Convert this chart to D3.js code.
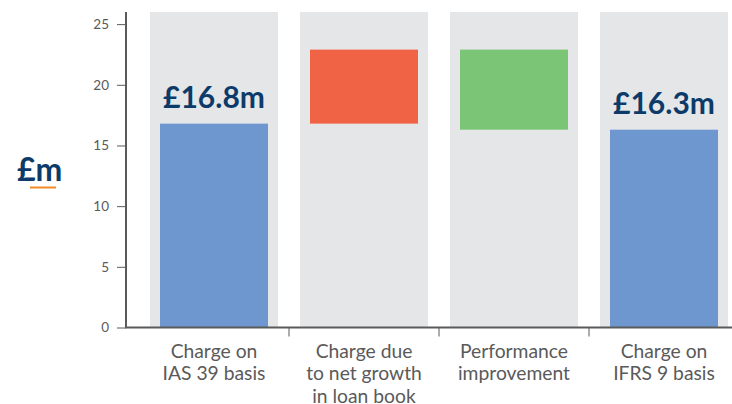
<!DOCTYPE html>
<html>
<head>
<meta charset="utf-8">
<script src="https://cdn.jsdelivr.net/npm/d3@7"></script>
<style>
  body { margin: 0; background: #fff; }
  svg { display: block; }
</style>
</head>
<body>
<div id="chart-area"></div>
<script>
// categories (lines of each x label) and waterfall steps in £m
const categories = [
    ['Charge on', 'IAS 39 basis'],
    ['Charge due', 'to net growth', 'in loan book'],
    ['Performance', 'improvement'],
    ['Charge on', 'IFRS 9 basis']
]
const values = [16.8, 6.1, -6.6, 16.3]
const kinds = ['total', 'increase', 'decrease', 'total']
const valueLabels = ['£16.8m', '', '', '£16.3m']
const yTicks = [0, 5, 10, 15, 20, 25]

const width = 732
const height = 404
const axisX = 126
const plotTop = 12
const plotBottom = 327.5

const colors = {
    total: '#6f97cf',
    increase: '#f06445',
    decrease: '#7bc577',
    band: '#e5e6e8',
    navy: '#0d3b69',
    axis: '#5a5a5a',
    text: '#5a5a5a'
}

const svg = d3.select('#chart-area')
              .append('svg')
              .attr('width', width)
              .attr('height', height)

// running totals for the waterfall
let running = 0
const bars = values.map((v, i) => {
    let start, end
    if (kinds[i] === 'total') {
        start = 0
        end = v
        running = v
    } else {
        start = running
        end = running + v
        running = end
    }
    return { key: i, start: start, end: end, kind: kinds[i], label: valueLabels[i] }
})

const x = d3.scaleBand()
            .domain(d3.range(categories.length))
            .range([139, 739])
            .paddingInner(22 / 150)
            .paddingOuter(11 / 150)

const y = d3.scaleLinear()
            .domain([0, 26])
            .range([plotBottom, plotTop])

// grey background columns
svg.selectAll('rect.band')
   .data(bars)
   .enter()
   .append('rect')
   .attr('class', 'band')
   .attr('x', d => x(d.key))
   .attr('y', y(26))
   .attr('width', x.bandwidth())
   .attr('height', y(0) - y(26))
   .attr('fill', colors.band)

const inset = 10
svg.selectAll('rect.bar')
   .data(bars)
   .enter()
   .append('rect')
   .attr('class', 'bar')
   .attr('x', d => x(d.key) + inset)
   .attr('y', d => y(Math.max(d.start, d.end)))
   .attr('width', x.bandwidth() - inset * 2)
   .attr('height', d => Math.abs(y(d.start) - y(d.end)))
   .attr('fill', d => colors[d.kind])

svg.selectAll('text.value')
   .data(bars.filter(d => d.label))
   .enter()
   .append('text')
   .attr('class', 'value')
   .attr('x', d => x(d.key) + x.bandwidth() / 2)
   .attr('y', d => y(d.end) - 16)
   .attr('text-anchor', 'middle')
   .attr('font-family', 'Lato, sans-serif')
   .attr('font-weight', 'bold')
   .attr('font-size', '30px')
   .attr('fill', colors.navy)
   .text(d => d.label)

// y axis
const yAxisCall = d3.axisLeft(y)
                    .tickValues(yTicks)
                    .tickSize(9)
                    .tickPadding(8)
                    .tickSizeOuter(0)

const yAxis = svg.append('g')
   .attr('transform', 'translate(' + axisX + ', 0)')
   .call(yAxisCall)
yAxis.select('.domain').remove()
yAxis.selectAll('line').attr('stroke', colors.axis)
yAxis.selectAll('text')
     .attr('font-family', 'Lato, sans-serif')
     .attr('font-size', '13.5px')
     .attr('fill', colors.text)

svg.append('line')
   .attr('x1', axisX).attr('x2', axisX)
   .attr('y1', plotTop).attr('y2', plotBottom)
   .attr('stroke', colors.axis)
   .attr('stroke-width', 2)

// x axis
svg.append('line')
   .attr('x1', axisX - 1).attr('x2', width)
   .attr('y1', plotBottom).attr('y2', plotBottom)
   .attr('stroke', colors.axis)
   .attr('stroke-width', 2)

const boundaries = d3.range(1, categories.length).map(i => x(i) - x.step() * x.paddingInner() / 2)
svg.selectAll('line.divider')
   .data(boundaries)
   .enter()
   .append('line')
   .attr('class', 'divider')
   .attr('x1', d => d).attr('x2', d => d)
   .attr('y1', plotBottom).attr('y2', plotBottom + 9)
   .attr('stroke', colors.axis)
   .attr('stroke-width', 1)

const labels = svg.selectAll('text.cat')
   .data(categories)
   .enter()
   .append('text')
   .attr('class', 'cat')
   .attr('text-anchor', 'middle')
   .attr('font-family', 'Lato, sans-serif')
   .attr('font-size', '19.3px')
   .attr('fill', colors.text)

labels.selectAll('tspan')
   .data((d, i) => d.map(line => ({ line: line, i: i })))
   .enter()
   .append('tspan')
   .attr('x', d => x(d.i) + x.bandwidth() / 2)
   .attr('y', (d, j) => 358 + j * 22.3)
   .text(d => d.line)

// unit label
svg.append('text')
   .attr('x', 17)
   .attr('y', 181)
   .attr('font-family', 'Lato, sans-serif')
   .attr('font-weight', 'bold')
   .attr('font-size', '32px')
   .attr('fill', colors.navy)
   .text('£m')

svg.append('line')
   .attr('x1', 30).attr('x2', 56)
   .attr('y1', 187.5).attr('y2', 187.5)
   .attr('stroke', '#f08a24')
   .attr('stroke-width', 2)
</script>
</body>
</html>
